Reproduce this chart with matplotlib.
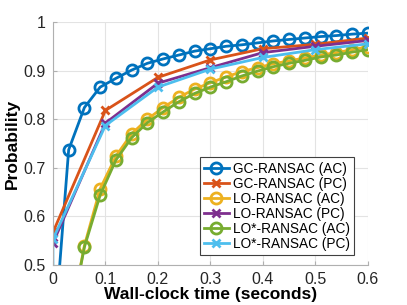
import matplotlib
matplotlib.use('Agg')
import matplotlib.pyplot as plt

plt.rcParams['font.family'] = ['Liberation Sans', 'DejaVu Sans']

# AC variants sampled every 0.03 s
t_gc_ac = [0.0, 0.03, 0.06, 0.09, 0.12, 0.15, 0.18, 0.21, 0.24, 0.27, 0.30,
           0.33, 0.36, 0.39, 0.42, 0.45, 0.48, 0.51, 0.54, 0.57, 0.60]
p_gc_ac = [0.32, 0.737, 0.824, 0.866, 0.884, 0.901, 0.915, 0.924, 0.932, 0.940, 0.945,
           0.950, 0.953, 0.957, 0.961, 0.964, 0.967, 0.970, 0.972, 0.975, 0.977]

t_lo_ac = [0.03, 0.06, 0.09, 0.12, 0.15, 0.18, 0.21, 0.24, 0.27, 0.30,
           0.33, 0.36, 0.39, 0.42, 0.45, 0.48, 0.51, 0.54, 0.57, 0.60]
p_lo_ac = [0.37, 0.540, 0.657, 0.724, 0.770, 0.800, 0.824, 0.845, 0.862, 0.875,
           0.887, 0.898, 0.906, 0.914, 0.920, 0.926, 0.932, 0.937, 0.943, 0.949]
p_los_ac = [0.37, 0.537, 0.644, 0.716, 0.762, 0.793, 0.815, 0.836, 0.853, 0.866,
            0.877, 0.889, 0.899, 0.908, 0.915, 0.921, 0.928, 0.932, 0.938, 0.943]

# PC variants sampled every 0.1 s
t_pc = [0.0, 0.1, 0.2, 0.3, 0.4, 0.5, 0.6]
p_gc_pc = [0.567, 0.818, 0.886, 0.922, 0.945, 0.954, 0.967]
p_lo_pc = [0.545, 0.792, 0.874, 0.906, 0.937, 0.950, 0.962]
t_los_pc = [0.0, 0.0, 0.1, 0.2, 0.3, 0.4, 0.5, 0.6]
p_los_pc = [0.30, 0.553, 0.787, 0.866, 0.903, 0.927, 0.943, 0.955]

labels = ['GC-RANSAC (AC)', 'GC-RANSAC (PC)', 'LO-RANSAC (AC)',
          'LO-RANSAC (PC)', 'LO*-RANSAC (AC)', 'LO*-RANSAC (PC)']
colors = ['#0072BD', '#D95319', '#EDB120', '#7E2F8E', '#77AC30', '#4DBEEE']

fig = plt.figure(figsize=(4.07, 3.05), dpi=100)
ax = fig.add_axes([0.130, 0.131, 0.774, 0.797])

circ = dict(marker='o', markersize=8, markerfacecolor='none', markeredgewidth=2, linewidth=2)
star = dict(marker='x', markersize=6, markeredgewidth=2, linewidth=2)

ax.plot(t_gc_ac, p_gc_ac, color=colors[0], label=labels[0], **circ)
ax.plot(t_pc, p_gc_pc, color=colors[1], label=labels[1], **star)
ax.plot(t_lo_ac, p_lo_ac, color=colors[2], label=labels[2], **circ)
ax.plot(t_pc, p_lo_pc, color=colors[3], label=labels[3], **star)
ax.plot(t_lo_ac, p_los_ac, color=colors[4], label=labels[4], **circ)
ax.plot(t_los_pc, p_los_pc, color=colors[5], label=labels[5], **star)

ax.set_xlim(0, 0.6)
ax.set_ylim(0.5, 1.0)
ax.set_xticks([0, 0.1, 0.2, 0.3, 0.4, 0.5, 0.6])
ax.set_xticklabels(['0', '0.1', '0.2', '0.3', '0.4', '0.5', '0.6'])
ax.set_yticks([0.5, 0.6, 0.7, 0.8, 0.9, 1.0])
ax.set_yticklabels(['0.5', '0.6', '0.7', '0.8', '0.9', '1'])
ax.grid(True, color='#e3e3e3', linewidth=0.8)
ax.set_axisbelow(True)
for s in ['top', 'right']:
    ax.spines[s].set_visible(False)
for s in ['left', 'bottom']:
    ax.spines[s].set_color('#b0b0b0')
    ax.spines[s].set_linewidth(0.8)
ax.tick_params(direction='in', length=3, color='#b0b0b0', labelsize=11.5, labelcolor='#262626', pad=5)

ax.set_xlabel('Wall-clock time (seconds)', fontsize=12.5, fontweight='bold', labelpad=0)
ax.set_ylabel('Probability', fontsize=12.5, fontweight='bold', labelpad=3)

leg = ax.legend(loc='lower right', bbox_to_anchor=(0.955, 0.041), borderaxespad=0,
                fontsize=9.8, fancybox=False, framealpha=1, edgecolor='#404040',
                handlelength=1.8, handletextpad=0.3, labelspacing=0.08, borderpad=0.3)
leg.get_frame().set_linewidth(0.8)

fig.savefig('out.png', dpi=100)
